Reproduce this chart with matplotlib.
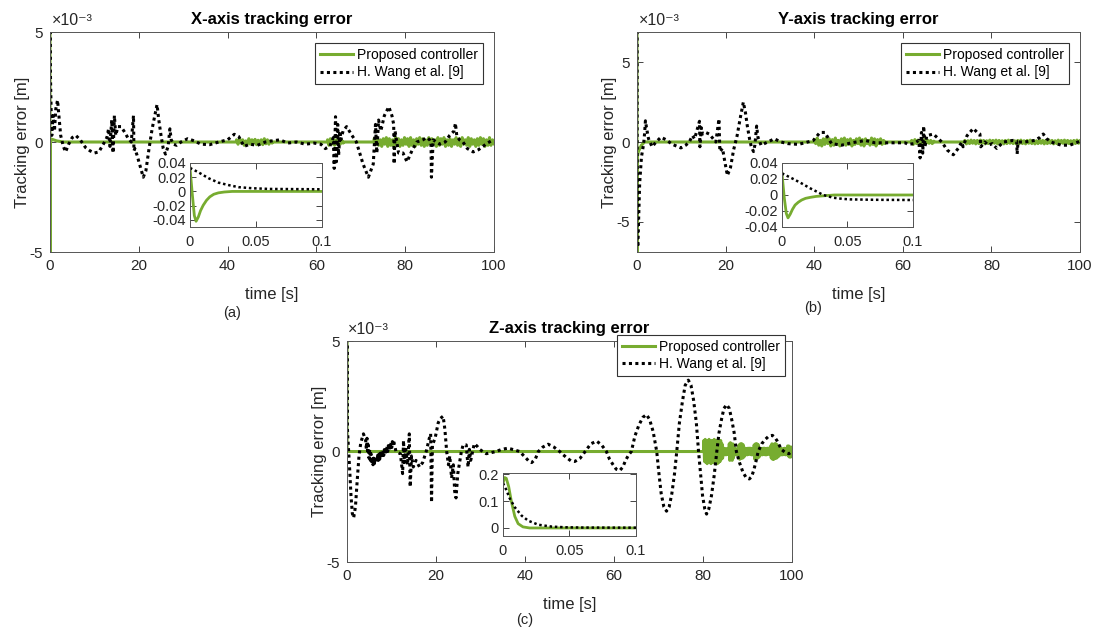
'''
Tracking error of the proposed controller vs. H. Wang et al. [9], X/Y/Z axes
'''
import numpy as np
import matplotlib
matplotlib.use('Agg')
import matplotlib.pyplot as plt

plt.rcParams['font.family'] = ['Liberation Sans', 'DejaVu Sans']
plt.rcParams['axes.unicode_minus'] = False

GREEN = '#77AC30'
AXCOL = '#262626'
DOTS = (0, (1, 1.1))

# ---------------- X axis (main panel values in 1e-3 m) ----------------
x_wang = [(0, 33), (0.03, 8), (0.1, 3.0), (0.25, 1.5), (0.4, 0.3), (0.7, 1.2), (1.0, 0.5),
          (1.3, 1.5), (1.7, 1.9), (2.0, 1.2), (2.4, 0.3), (3.0, -0.2), (3.5, -0.45), (4.2, -0.1),
          (5.0, 0.2), (5.8, 0.3), (6.8, 0.1), (8.0, -0.25), (9.0, -0.4), (10.0, -0.5), (11.0, -0.45),
          (12.0, -0.1), (12.8, 0.2), (13.2, 0.6), (13.5, -0.2), (13.9, 1.0), (14.2, -0.5), (14.5, 1.2),
          (14.8, 0.3), (15.3, 0.7), (16.0, 0.7), (16.8, 0.45), (17.5, 0.2), (18.3, 0.0), (18.8, 1.2),
          (18.9, -0.4), (19.1, -0.3), (19.6, -0.6), (20.3, -1.1), (21.0, -1.6), (21.6, -1.3),
          (22.3, -0.3), (23.0, 0.6), (23.6, 1.2), (24.1, 1.7), (24.5, 1.0), (25.0, 0.3), (25.5, -0.3),
          (26.0, -0.55), (26.6, -0.2), (27.0, 0.6), (27.3, 0.1), (27.8, -0.1), (28.5, -0.15),
          (29.5, 0.0), (31.0, 0.15), (32.5, 0.05), (34.0, -0.1), (36.0, -0.12), (38.0, 0.0),
          (40.0, 0.1), (41.5, 0.35), (42.5, 0.25), (43.7, -0.2), (45.0, -0.1), (46.7, -0.15),
          (48.5, 0.0), (50.0, 0.05), (51.8, 0.1), (53.5, -0.05), (55.5, 0.0), (57.5, -0.1),
          (59.5, -0.05), (61.0, -0.1), (62.0, -0.3), (63.0, -0.2), (63.8, 0.2), (64.0, -1.2),
          (64.3, 1.15), (64.5, -0.9), (64.8, 0.8), (65.0, -0.6), (65.3, 0.5), (65.5, 0.1),
          (66.0, 0.5), (66.8, 0.7), (68.0, 0.3), (69.0, 0.0), (70.5, -1.0), (71.7, -1.6),
          (72.8, -1.0), (73.3, 0.8), (73.6, -0.5), (74.0, 1.0), (74.5, 0.5), (75.3, 1.2),
          (76.3, 1.6), (77.0, 1.2), (77.4, 0.8), (77.5, -1.0), (77.7, 0.5), (78.5, -0.5),
          (79.5, -0.5), (80.4, -0.9), (81.5, -0.4), (82.6, 0.0), (84.0, 0.1), (84.8, 0.2),
          (85.5, 0.1), (85.8, 0.0), (85.9, -1.6), (86.3, 0.1), (87.0, 0.0), (87.8, -0.1),
          (89.0, 0.0), (90.0, 0.3), (91.0, 0.5), (91.3, 0.85), (91.6, 0.3), (92.2, 0.1),
          (93.0, 0.0), (94.0, -0.3), (95.3, -0.45), (96.5, -0.35), (97.5, -0.2), (98.5, -0.05),
          (99.8, 0.1)]
x_prop = [(0, 33), (0.0046, -42), (0.03, 0.0), (0.5, 0.12), (1.5, 0.05), (3.0, 0.0), (100, 0.0)]
x_prop_noise = [
    (42.0, 50.0, [0.1, -0.1, 0.15, -0.05, 0.1, -0.15, 0.05, -0.1, 0.15, -0.1, 0.1, -0.05,
                  0.12, -0.12, 0.08, -0.1, 0.1, -0.12, 0.15, -0.08, 0.1, -0.1, 0.05, -0.05]),
    (62.5, 66.0, [0.1, -0.15, 0.15, -0.1, 0.12, -0.15, 0.1, -0.1, 0.12, -0.1, 0.08, -0.05]),
    (73.0, 100.0, [0.15, -0.1, 0.2, -0.15, 0.1, -0.2, 0.15, -0.1, 0.2, -0.2,
                   0.15, -0.15, 0.1, -0.2, 0.2, -0.1, 0.15, -0.2, 0.1, -0.15,
                   0.2, -0.1, 0.15, -0.2, 0.2, -0.15, 0.1, -0.2, 0.15, -0.1,
                   0.2, -0.15, 0.15, -0.2, 0.1, -0.15, 0.2, -0.1, 0.15, -0.1,
                   0.1, -0.2, 0.2, -0.15, 0.15, -0.1, 0.2, -0.2, 0.1, -0.15,
                   0.15, -0.2, 0.1, -0.1, 0.2, -0.15, 0.15, -0.2, 0.2, -0.1,
                   0.1, -0.15, 0.2, -0.2, 0.15, -0.1, 0.1, -0.2, 0.15, -0.15,
                   0.2, -0.1, 0.15, -0.2, 0.1, -0.15, 0.2, -0.15, 0.1, -0.1]),
]
# inset, values in m
x_in_prop = [(0, 0.033), (0.0018, -0.005), (0.0033, -0.034), (0.0046, -0.042), (0.0063, -0.036),
             (0.008, -0.027), (0.010, -0.0195), (0.0125, -0.0125), (0.015, -0.0076),
             (0.018, -0.004), (0.0215, -0.002), (0.026, -0.0008), (0.032, 0.0), (0.1, 0.0)]
x_in_wang = [(0, 0.033), (0.0063, 0.027), (0.014, 0.0186), (0.0215, 0.0124), (0.029, 0.009),
             (0.0367, 0.006), (0.047, 0.0045), (0.06, 0.0035), (0.1, 0.003)]

# ---------------- Y axis ----------------
y_wang = [(0, 27), (0.0316, 0.0), (0.1, -6.3), (0.2, -6.6), (0.35, -5.0), (0.6, -2.6),
          (1.0, -0.95), (1.5, -0.1), (1.7, 0.5), (1.9, 1.33), (2.2, 0.8), (2.6, 0.2), (3.4, -0.3),
          (4.3, 0.0), (5.4, 0.3), (6.5, 0.15), (8.0, -0.15), (9.9, -0.37), (11.0, -0.2),
          (11.8, 0.0), (12.5, 0.4), (13.0, 0.2), (13.5, 0.7), (14.1, 1.3), (14.2, -0.3),
          (14.5, 0.9), (14.8, 0.5), (15.5, 0.6), (16.3, 0.5), (17.2, 0.2), (17.8, 0.0),
          (18.5, 1.45), (18.7, -0.6), (19.3, -0.4), (19.8, -1.2), (20.4, -2.1), (21.1, -1.6),
          (21.8, -0.5), (22.6, 0.4), (23.3, 1.5), (24.0, 2.5), (24.5, 1.8), (24.9, 1.0),
          (25.4, 0.2), (25.8, -0.3), (26.3, -0.6), (26.6, -0.2), (27.0, 1.0), (27.3, 0.3),
          (28.0, -0.2), (29.5, 0.0), (31.0, 0.2), (32.5, 0.0), (34.0, -0.1), (36.4, -0.15),
          (37.9, -0.05), (39.8, 0.1), (41.3, 0.6), (42.4, 0.6), (43.9, -0.1), (46.2, -0.2),
          (48.4, -0.05), (50.6, 0.05), (51.5, 0.1), (53.7, -0.05), (57.0, -0.05), (60.5, -0.05),
          (61.2, -0.15), (62.5, -0.1), (63.6, 0.1), (63.9, -1.0), (64.2, 0.6), (64.5, -0.7),
          (64.7, 1.0), (65.0, -0.3), (65.4, 0.4), (66.9, 0.5), (68.8, 0.0), (70.0, -0.5),
          (71.4, -0.8), (72.5, -0.4), (73.3, 0.0), (73.6, -0.3), (74.5, 0.4), (75.9, 0.85),
          (76.8, 0.6), (77.4, 0.5), (77.6, -0.3), (78.5, 0.0), (79.3, -0.2), (80.2, -0.1),
          (81.2, -0.4), (82.7, 0.0), (84.9, 0.1), (85.7, 0.05), (85.8, -0.75), (86.0, 0.0),
          (87.5, 0.0), (89.8, 0.1), (91.0, 0.3), (91.7, 0.5), (92.5, 0.2), (93.5, 0.0),
          (94.5, -0.1), (95.8, -0.2), (97.7, -0.2), (100.0, 0.05)]
y_prop = [(0, 27), (0.0046, -28.6), (0.04, -1.0), (0.3, -0.6), (1.0, -0.2), (1.7, 0.0), (100, 0.0)]
y_prop_noise = [
    (40.0, 56.0, [0.15, -0.1, 0.25, -0.2, 0.1, -0.25, 0.2, -0.15, 0.25, -0.1, 0.2, -0.25,
                  0.15, -0.2, 0.25, -0.15, 0.1, -0.25, 0.2, -0.1, 0.25, -0.2, 0.15, -0.15,
                  0.2, -0.25, 0.1, -0.15, 0.2, -0.1, 0.25, -0.2, 0.15, -0.25, 0.2, -0.1,
                  0.1, -0.2, 0.25, -0.15, 0.2, -0.25, 0.15, -0.1, 0.2, -0.15, 0.1, -0.1]),
    (62.0, 67.0, [0.1, -0.15, 0.15, -0.1, 0.12, -0.15, 0.1, -0.12, 0.15, -0.1, 0.12, -0.08,
                  0.1, -0.1, 0.05]),
    (74.0, 100.0, [0.1, -0.12, 0.08, -0.1, 0.12, -0.08, 0.1, -0.12, 0.1, -0.1, 0.12, -0.08, 0.1, -0.12, 0.08,
                   -0.1, 0.12, -0.1, 0.1, -0.08, 0.12, -0.12, 0.1, -0.1, 0.08, -0.12, 0.1, -0.1, 0.12, -0.08,
                   0.1, -0.1, 0.08, -0.12, 0.1, -0.1, 0.12, -0.1, 0.08, -0.12, 0.1, -0.08, 0.12, -0.1, 0.1,
                   -0.12, 0.08, -0.1, 0.12, -0.08, 0.1, -0.12, 0.1, -0.1, 0.12, -0.08, 0.1, -0.12, 0.08, -0.1,
                   0.12, -0.1, 0.1, -0.08, 0.12, -0.12, 0.1, -0.1, 0.08, -0.12, 0.1, -0.1, 0.12, -0.08, 0.1]),
]
y_in_prop = [(0, 0.027), (0.0018, -0.004), (0.0033, -0.023), (0.0046, -0.0286), (0.0063, -0.024),
             (0.008, -0.018), (0.010, -0.0126), (0.0125, -0.009), (0.015, -0.0063),
             (0.018, -0.0042), (0.0215, -0.003), (0.026, -0.0018), (0.032, -0.001),
             (0.04, 0.0), (0.1, 0.0)]
y_in_wang = [(0, 0.027), (0.0089, 0.0198), (0.015, 0.0145), (0.0215, 0.0084), (0.0316, 0.0),
             (0.039, -0.0034), (0.046, -0.0048), (0.052, -0.0055), (0.07, -0.006), (0.1, -0.0063)]

# ---------------- Z axis ----------------
z_wang = [(0, 167), (0.02, 25), (0.1, 1.0), (0.3, 0.3), (0.6, -0.8), (0.9, -2.0), (1.2, -2.8),
          (1.5, -3.0), (1.9, -2.5), (2.3, -1.3), (2.7, -0.2), (3.1, 0.4), (3.7, 0.8),
          (4.2, 0.5), (4.35, 0.1), (4.5, 0.6), (4.65, -0.1), (4.8, 0.3), (4.95, -0.3), (5.1, 0.1),
          (5.25, -0.4), (5.4, -0.1), (5.55, -0.55), (5.7, -0.25), (5.85, -0.6), (6.0, -0.3),
          (6.15, -0.55), (6.3, -0.28), (6.45, -0.5), (6.6, -0.22), (6.75, -0.45), (6.9, -0.17),
          (7.05, -0.4), (7.2, -0.12), (7.35, -0.35), (7.5, -0.07), (7.65, -0.3), (7.8, -0.02),
          (7.95, -0.24), (8.1, 0.03), (8.25, -0.18), (8.4, 0.09), (8.55, -0.12), (8.7, 0.15),
          (8.85, -0.06), (9.0, 0.21), (9.15, 0.0), (9.3, 0.27), (9.45, 0.06), (9.6, 0.33),
          (9.75, 0.12), (9.9, 0.39), (10.05, 0.18), (10.2, 0.45), (10.35, 0.26), (10.5, 0.52),
          (10.65, 0.3), (10.8, 0.2), (11.0, 0.0), (12.0, -0.1), (12.5, -1.0), (12.7, 0.5),
          (12.9, -0.5), (13.2, 0.1), (13.6, -0.6), (14.0, 0.8), (14.2, -1.6), (14.5, -0.2),
          (14.9, -0.7), (15.5, -0.4), (16.3, -0.7), (17.0, -0.5), (17.8, 0.0), (18.5, 0.6),
          (18.8, 0.8), (19.0, -2.3), (19.2, 0.3), (19.8, 0.6), (20.5, 1.3), (21.0, 1.5),
          (21.6, 1.6), (22.0, 1.0), (22.4, 0.0), (22.8, -0.6), (23.1, -0.2), (23.5, -1.2),
          (23.9, -0.6), (24.2, -1.8), (24.5, -2.1), (24.9, -1.0), (25.3, -0.5), (25.7, 0.0),
          (26.1, 0.3), (26.8, 0.3), (27.2, -0.7), (27.5, 0.1), (27.8, -0.4), (28.6, 0.35),
          (29.2, 0.25), (29.8, 0.1), (30.5, 0.0), (31.3, -0.1), (32.4, -0.05), (33.5, 0.0),
          (34.8, 0.1), (36.2, 0.15), (37.5, 0.08), (38.8, 0.0), (39.5, -0.15), (40.0, -0.25),
          (40.8, -0.42), (41.5, -0.5), (42.3, -0.35), (43.0, 0.0), (44.0, 0.2), (45.2, 0.33),
          (46.5, 0.2), (47.8, 0.0), (48.6, -0.15), (49.5, -0.3), (50.3, -0.42), (51.2, -0.45),
          (52.4, -0.3), (53.5, 0.0), (54.8, 0.35), (56.1, 0.47), (57.2, 0.3), (58.3, 0.0),
          (59.0, -0.35), (59.8, -0.6), (60.5, -0.8), (61.3, -0.86), (62.0, -0.7), (62.6, -0.4),
          (63.3, -0.15), (63.9, 0.0), (64.7, 0.7), (65.6, 1.2), (66.5, 1.55), (67.3, 1.67),
          (68.0, 1.45), (68.8, 0.9), (69.6, 0.0), (70.1, -1.0), (70.6, -1.9), (71.2, -2.5),
          (71.8, -2.7), (72.4, -2.5), (73.0, -1.9), (73.6, -1.0), (74.1, 0.0), (74.7, 1.3),
          (75.4, 2.3), (76.0, 3.0), (76.7, 3.23), (77.3, 3.0), (77.9, 2.3), (78.5, 1.3),
          (79.0, 0.0), (79.5, -1.1), (79.9, -2.0), (80.4, -2.6), (80.8, -2.83), (81.3, -2.6),
          (81.9, -2.0), (82.5, -1.1), (83.1, 0.0), (83.6, 0.85), (84.2, 1.5), (84.7, 1.95),
          (85.3, 2.12), (85.9, 1.95), (86.4, 1.5), (87.0, 0.85), (87.5, 0.0), (88.2, -0.5),
          (89.0, -0.95), (89.7, -1.18), (90.4, -1.24), (90.9, -1.15), (91.4, -0.85),
          (91.9, -0.45), (92.4, 0.0), (93.2, 0.35), (94.0, 0.55), (94.8, 0.7), (95.6, 0.73),
          (96.1, 0.65), (96.6, 0.5), (97.1, 0.3), (97.6, 0.1), (98.5, -0.05), (99.3, -0.1),
          (100.0, 0.0)]
z_prop = [(0, 167), (0.0013, 188), (0.015, 0.0), (100, 0.0)]
z_prop_noise = [
    (80.2, 84.4, [0.5, -0.45, 0.55, -0.5, 0.4, -0.55, 0.5, -0.4, 0.55, -0.5, 0.45, -0.55,
                  0.5, -0.45, 0.4, -0.5, 0.55, -0.4, 0.45, -0.5, 0.5, -0.55, 0.45, -0.5,
                  0.4, -0.45, 0.5, -0.35, 0.35, -0.3]),
    (84.4, 85.8, [0.15, -0.12, 0.15, -0.15, 0.12, -0.15, 0.12, -0.12, 0.15, -0.15]),
    (85.9, 86.8, [0.35, -0.4, 0.4, -0.35, 0.3, -0.4, 0.35, -0.3]),
    (86.8, 88.1, [0.15, -0.12, 0.15, -0.15, 0.12, -0.15, 0.12, -0.15, 0.12]),
    (88.1, 89.2, [0.3, -0.35, 0.35, -0.3, 0.35, -0.3, 0.3, -0.25]),
    (89.2, 91.5, [0.15, -0.12, 0.15, -0.15, 0.12, -0.15, 0.15, -0.12, 0.15, -0.12, 0.15, -0.15,
                  0.12, -0.15, 0.15, -0.12]),
    (91.5, 92.6, [0.3, -0.35, 0.35, -0.3, 0.35, -0.3, 0.3, -0.25]),
    (92.6, 95.2, [0.15, -0.12, 0.15, -0.15, 0.12, -0.15, 0.15, -0.12, 0.15, -0.15, 0.12, -0.15,
                  0.15, -0.12, 0.15, -0.12, 0.15, -0.15]),
    (95.2, 97.1, [0.25, -0.3, 0.35, -0.35, 0.3, -0.35, 0.35, -0.3, 0.35, -0.3, 0.3, -0.25,
                  0.2, -0.2]),
    (97.1, 99.0, [0.15, -0.12, 0.15, -0.15, 0.12, -0.15, 0.12, -0.12, 0.15, -0.15, 0.12,
                  -0.12, 0.15]),
    (99.0, 100.0, [0.25, -0.2, 0.25, -0.25, 0.2, -0.25, 0.2, -0.2]),
]
z_in_prop = [(0, 0.167), (0.0013, 0.188), (0.0025, 0.185), (0.0043, 0.154), (0.0063, 0.099),
             (0.0089, 0.043), (0.0114, 0.016), (0.015, 0.004), (0.02, 0.0), (0.1, 0.0)]
z_in_wang = [(0, 0.167), (0.0025, 0.142), (0.005, 0.111), (0.0089, 0.077), (0.014, 0.046),
             (0.019, 0.027), (0.0266, 0.012), (0.0367, 0.005), (0.047, 0.0025), (0.06, 0.0015),
             (0.1, 0.001)]

LEG_LABELS = ['Proposed controller', 'H. Wang et al. [9]']
MAIN_YTICKS = [-5, 0, 5]   # in units of 1e-3 m


def build_green(base, noise):
    """
    Merge the base points and the listed noise bursts of the proposed controller
    """
    t = [p[0] for p in base]
    v = [p[1] for p in base]
    for t0, t1, vals in noise:
        # burst starts and ends on the zero line
        t += [t0 - 0.01] + list(np.linspace(t0, t1, len(vals))) + [t1 + 0.01]
        v += [0.0] + vals + [0.0]
    order = np.argsort(t, kind='stable')
    return np.array(t)[order], np.array(v)[order]


def style_axes(ax, size):
    ax.tick_params(direction='in', top=True, right=True, colors=AXCOL,
                   labelsize=size, length=4, width=0.6, pad=5)
    for sp in ax.spines.values():
        sp.set_color('#555555')
        sp.set_linewidth(0.7)


def draw_panel(fig, rect, title, wang, prop, noise, ylim, in_rect, in_prop, in_wang,
               in_ylim, in_yticks, legend_corner):
    ax = fig.add_axes(rect)
    tg, vg = build_green(prop, noise)
    tw = np.array([p[0] for p in wang])
    vw = np.array([p[1] for p in wang])
    ax.plot(tg, vg * 1e-3, color=GREEN, lw=2.2, label=LEG_LABELS[0])
    ax.plot(tw, vw * 1e-3, color='black', lw=2.2, linestyle=DOTS, label=LEG_LABELS[1])
    ax.set_xlim(0, 100)
    ax.set_ylim(ylim[0] * 1e-3, ylim[1] * 1e-3)
    ax.set_xticks([0, 20, 40, 60, 80, 100])
    ax.set_yticks([v * 1e-3 for v in MAIN_YTICKS])
    ax.set_yticklabels([str(v) for v in MAIN_YTICKS])
    # MATLAB style exponent label above the y axis (one text, unicode superscripts)
    ax.annotate('\u00d710\u207b\u00b3', xy=(0, 1), xycoords='axes fraction', xytext=(1, 3),
                textcoords='offset points', fontsize=11.5, color=AXCOL, va='bottom')
    style_axes(ax, 11)
    ax.set_title(title, fontsize=12, fontweight='bold', pad=6)
    ax.set_xlabel('time [s]', fontsize=12, color=AXCOL, labelpad=10)
    ax.set_ylabel('Tracking error [m]', fontsize=12, color=AXCOL, labelpad=0)
    leg = ax.legend(loc='upper right', bbox_to_anchor=legend_corner,
                    bbox_transform=fig.transFigure, borderaxespad=0, fontsize=10,
                    fancybox=False, handlelength=2.4, handletextpad=0.3,
                    labelspacing=0.25, borderpad=0.35, framealpha=1)
    leg.get_frame().set_edgecolor('#333333')
    leg.get_frame().set_linewidth(0.8)

    # zoom of the first 0.1 s
    ins = fig.add_axes(in_rect)
    ins.plot([p[0] for p in in_prop], [p[1] for p in in_prop], color=GREEN, lw=2.0)
    ins.plot([p[0] for p in in_wang], [p[1] for p in in_wang], color='black', lw=1.8,
             linestyle=DOTS)
    ins.set_xlim(0, 0.1)
    ins.set_ylim(*in_ylim)
    ins.set_xticks([0, 0.05, 0.1])
    ins.set_xticklabels(['0', '0.05', '0.1'])
    ins.set_yticks(in_yticks)
    ins.set_yticklabels([('%g' % v) for v in in_yticks])
    style_axes(ins, 10.5)
    ins.tick_params(axis='x', pad=6)
    ins.tick_params(axis='y', pad=3)
    return ax


def main():
    fig = plt.figure(figsize=(11.04, 6.3), dpi=100)

    draw_panel(fig, [0.0453, 0.600, 0.4022, 0.3492], 'X-axis tracking error',
               x_wang, x_prop, x_prop_noise, (-5, 5),
               [0.1721, 0.6397, 0.1196, 0.1016], x_in_prop, x_in_wang,
               (-0.05, 0.04), [-0.04, -0.02, 0, 0.02, 0.04], (0.4375, 0.9317))
    draw_panel(fig, [0.5770, 0.600, 0.4013, 0.3492], 'Y-axis tracking error',
               y_wang, y_prop, y_prop_noise, (-6.9, 6.9),
               [0.7083, 0.6397, 0.1187, 0.1016], y_in_prop, y_in_wang,
               (-0.04, 0.04), [-0.04, -0.02, 0, 0.02, 0.04], (0.9683, 0.9317))
    draw_panel(fig, [0.3143, 0.1079, 0.4031, 0.3508], 'Z-axis tracking error',
               z_wang, z_prop, z_prop_noise, (-5, 5),
               [0.4556, 0.1492, 0.1205, 0.1000], z_in_prop, z_in_wang,
               (-0.03, 0.205), [0, 0.1, 0.2], (0.7111, 0.4683))

    fig.text(232 / 1104, 1 - 313 / 630, '(a)', ha='center', va='center', fontsize=10.5, color=AXCOL)
    fig.text(813 / 1104, 1 - 308 / 630, '(b)', ha='center', va='center', fontsize=10.5, color=AXCOL)
    fig.text(525 / 1104, 1 - 620 / 630, '(c)', ha='center', va='center', fontsize=10.5, color=AXCOL)

    fig.savefig('out.png', dpi=100)


if __name__ == "__main__":
    main()
